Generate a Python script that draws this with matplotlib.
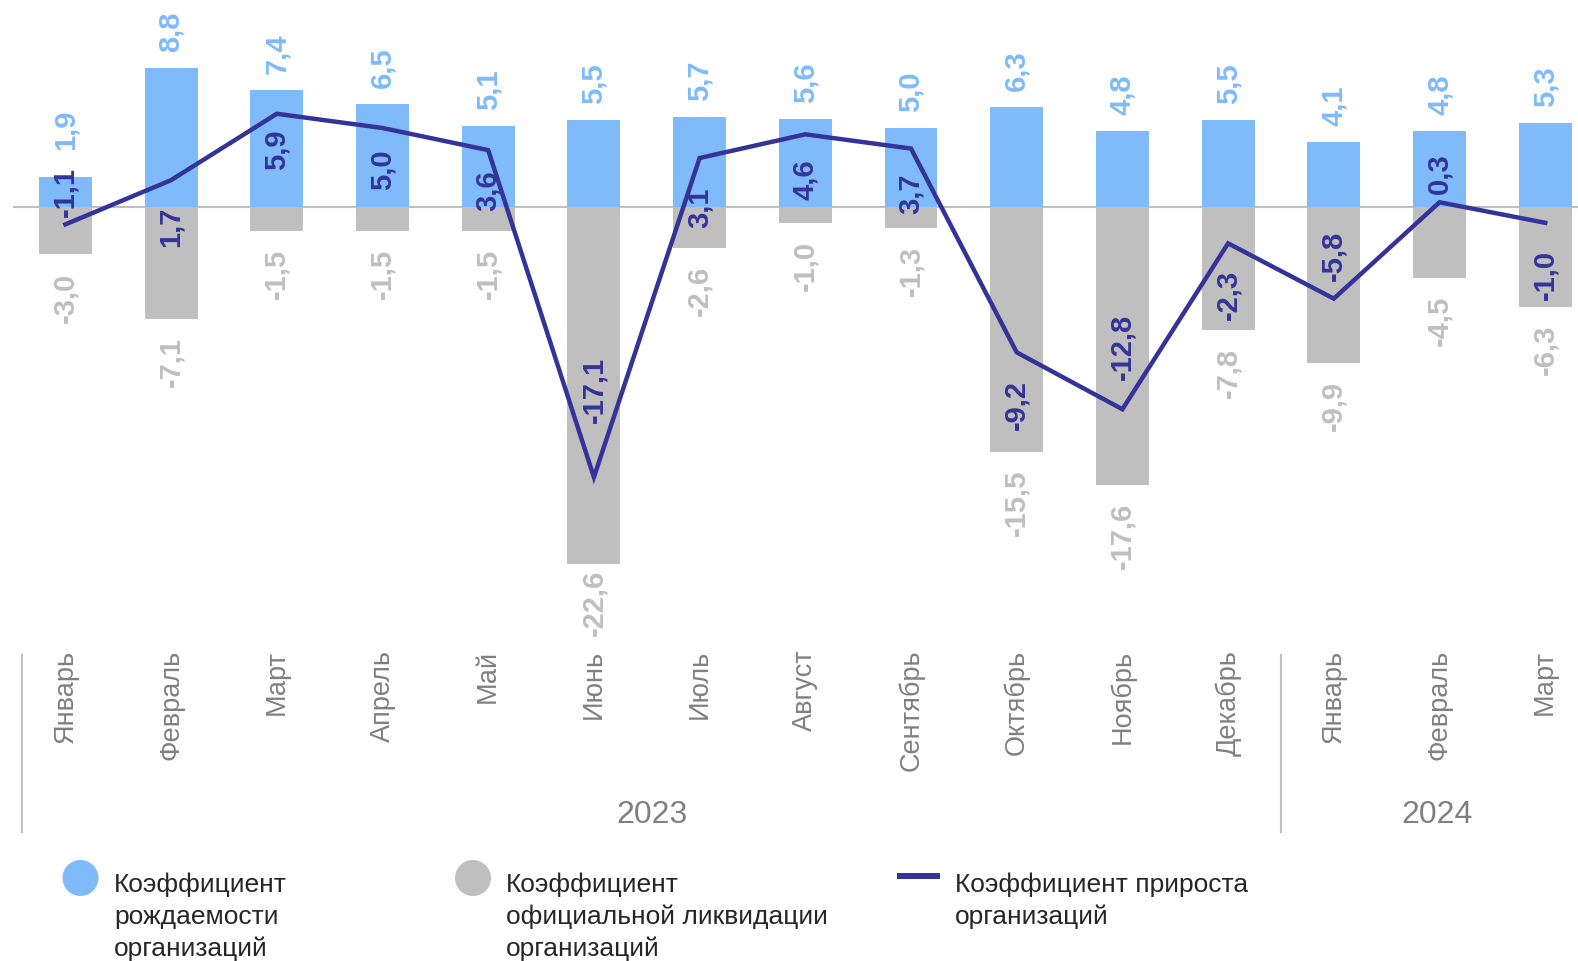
import matplotlib
matplotlib.use("Agg")
import matplotlib.pyplot as plt
import matplotlib.transforms as mtransforms
from matplotlib.patches import Circle

plt.rcParams['font.family'] = ['Liberation Sans', 'DejaVu Sans']

# ---------------- data ----------------
months = ["Январь", "Февраль", "Март", "Апрель", "Май", "Июнь", "Июль", "Август",
          "Сентябрь", "Октябрь", "Ноябрь", "Декабрь", "Январь", "Февраль", "Март"]
years = ["2023", "2024"]
year_counts = [12, 3]
birth = [1.9, 8.8, 7.4, 6.5, 5.1, 5.5, 5.7, 5.6, 5.0, 6.3, 4.8, 5.5, 4.1, 4.8, 5.3]
liquidation = [-3.0, -7.1, -1.5, -1.5, -1.5, -22.6, -2.6, -1.0, -1.3, -15.5, -17.6, -7.8, -9.9, -4.5, -6.3]
net = [-1.1, 1.7, 5.9, 5.0, 3.6, -17.1, 3.1, 4.6, 3.7, -9.2, -12.8, -2.3, -5.8, 0.3, -1.0]
legend_labels = ["Коэффициент\nрождаемости\nорганизаций",
                 "Коэффициент\nофициальной ликвидации\nорганизаций",
                 "Коэффициент прироста\nорганизаций"]

# ---------------- style ----------------
BLUE = "#7fbafb"
GRAY = "#bfbfbf"
NAVY = "#333399"
TXT_GRAY = "#808080"
# net-label centre offsets in pixels (positive = downward)
net_label_offsets = [-33, 46, 35, 41, 40, -88, 49, 44, 44, 52, -63, 51, -44, -30, 51]
birth_label_extra = {0: 11}
liq_label_extra = {5: -12}

def fmt(v):
    return f"{v:.1f}".replace(".", ",")

W, H = 1578, 962
fig = plt.figure(figsize=(W / 100, H / 100), dpi=100)

ax_h = 640
ax = fig.add_axes([0, 1 - ax_h / H, 1, ax_h / H])
x0_px, step_px, zero_px, unit_px = 65.4, 105.7, 208, 15.8
ax.set_xlim(-x0_px / step_px, (W - x0_px) / step_px)
ax.set_ylim(-(ax_h - zero_px) / unit_px, zero_px / unit_px)

x = list(range(len(months)))
ax.hlines(0, -0.5, 15, color=GRAY, lw=1.5, zorder=1)
ax.bar(x, birth, width=0.5, color=BLUE, zorder=2)
ax.bar(x, liquidation, width=0.5, color=GRAY, zorder=2)
ax.plot(x, net, color=NAVY, lw=3.2, zorder=3, solid_joinstyle='miter')

for i in x:
    ax.annotate(fmt(birth[i]), (i, birth[i]), xytext=(0, 17 + birth_label_extra.get(i, 0)),
                textcoords='offset pixels', rotation=90, ha='center', va='bottom',
                fontsize=21, color=BLUE, fontweight='bold', zorder=4)
    ax.annotate(fmt(liquidation[i]), (i, liquidation[i]),
                xytext=(0, -17 - liq_label_extra.get(i, 0)),
                textcoords='offset pixels', rotation=90, ha='center', va='top',
                fontsize=21, color=GRAY, fontweight='bold', zorder=4,
                annotation_clip=False)
    ax.annotate(fmt(net[i]), (i, net[i]), xytext=(0, -net_label_offsets[i]),
                textcoords='offset pixels', rotation=90, ha='center', va='center',
                fontsize=21, color=NAVY, fontweight='bold', zorder=5)

ax.set_xticks(x)
ax.set_xticklabels(months, rotation=90, fontsize=19.5, color=TXT_GRAY)
ax.tick_params(axis='x', length=0, pad=7)
ax.set_yticks([])
for s in ax.spines.values():
    s.set_visible(False)

# overlay in pixel coordinates
oax = fig.add_axes([0, 0, 1, 1])
oax.set_xlim(0, W)
oax.set_ylim(H, 0)
oax.axis('off')
oax.patch.set_alpha(0)

trans = mtransforms.blended_transform_factory(ax.transData, oax.transData)
bounds = [-0.41]
for c in year_counts:
    bounds.append(bounds[-1] + c if len(bounds) > 1 else -0.5 + c)
bounds[-1] = bounds[-1] - 0.04
for b in bounds[:-1]:
    ax.plot([b, b], [656, 833], transform=trans, color=GRAY, lw=1.5, clip_on=False)
for k, yr in enumerate(years):
    cx = (bounds[k] + bounds[k + 1]) / 2
    ax.text(cx, 815, yr, transform=trans, ha='center', va='center',
            fontsize=23, color=TXT_GRAY, clip_on=False)

# legend
oax.add_patch(Circle((80.5, 879), 18, color=BLUE, lw=0))
oax.add_patch(Circle((473, 879), 18, color=GRAY, lw=0))
oax.plot([897, 940], [877, 877], color=NAVY, lw=4.3, solid_capstyle='butt')
for tx, lab in zip([114, 506, 955], legend_labels):
    oax.text(tx, 873, lab, ha='left', va='top', fontsize=19, color="#262626",
             linespacing=1.38)

fig.savefig("out.png", dpi=100)
